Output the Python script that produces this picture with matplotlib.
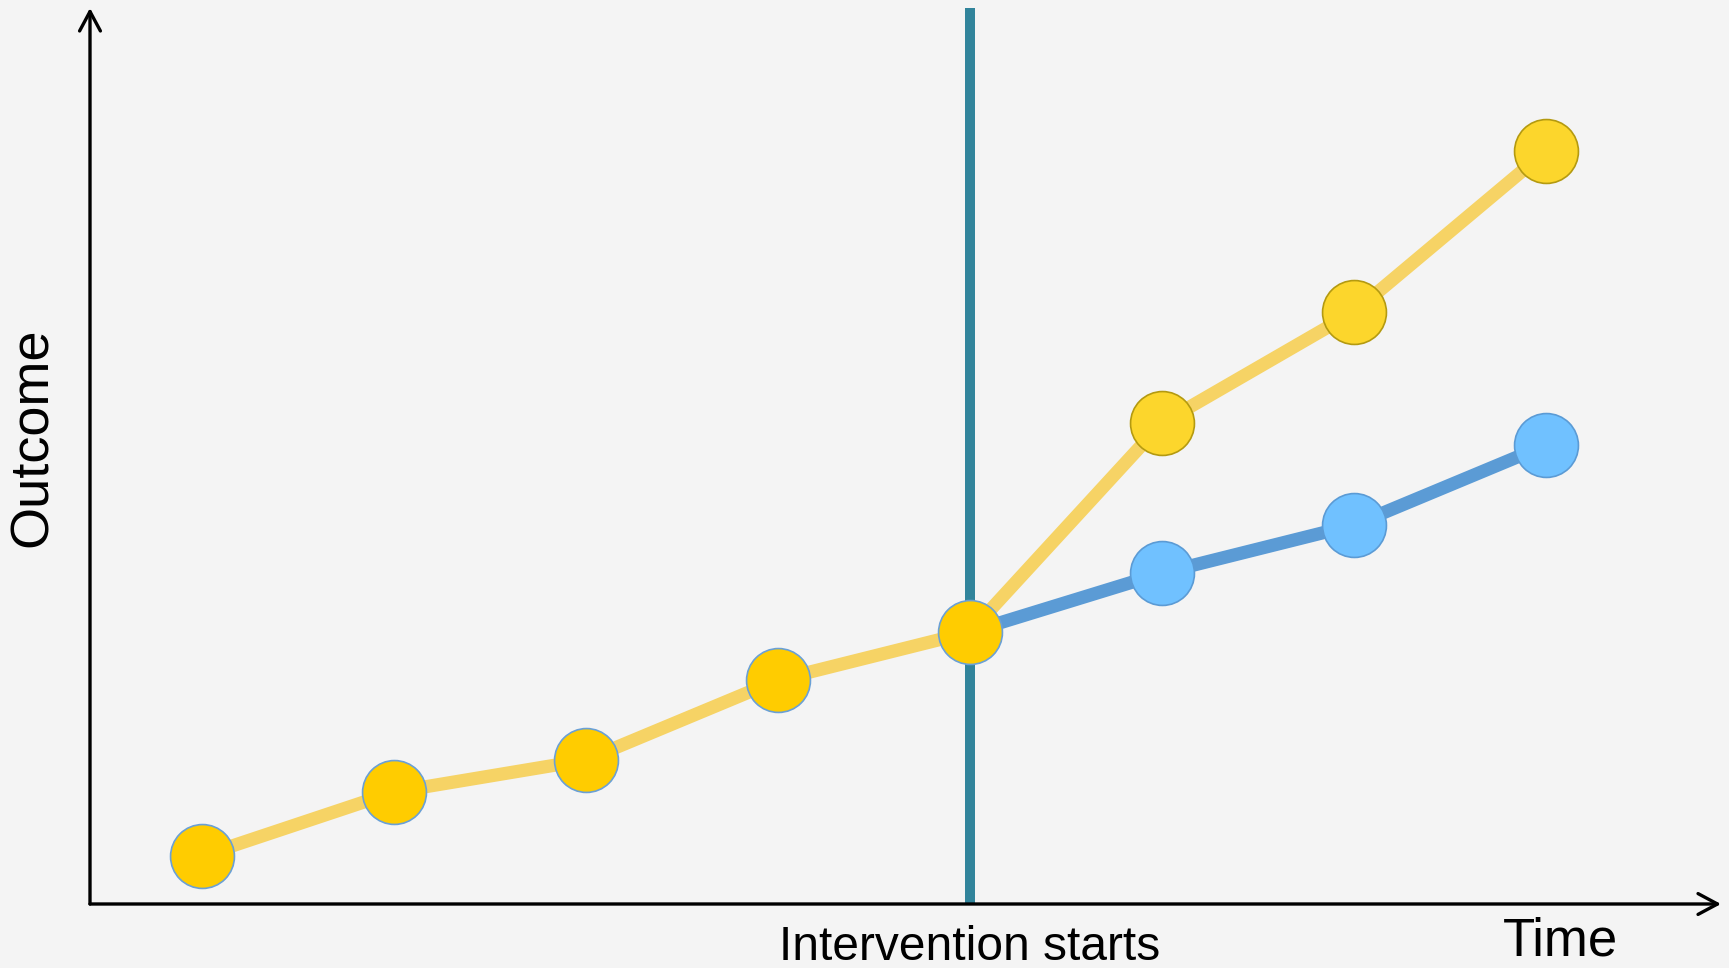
import matplotlib
matplotlib.use('Agg')
import matplotlib.pyplot as plt

plt.rcParams['font.family'] = ['Liberation Sans', 'DejaVu Sans']

# time points and outcome values (arbitrary units)
time_pre = [1, 2, 3, 4, 5]
outcome_pre = [0.48, 1.12, 1.44, 2.24, 2.72]
time_post = [6, 7, 8]
outcome_treated = [4.81, 5.92, 7.53]
outcome_control = [3.31, 3.79, 4.59]
intervention_time = 5

bg = '#f4f4f4'
yellow_line = '#f6d365'
blue_line = '#5b9bd5'
teal = '#31849b'

fig = plt.figure(figsize=(17.29, 9.68), dpi=100, facecolor=bg)
ax = fig.add_axes([90 / 1729, 64 / 968, (1721 - 90) / 1729, (904 - 8) / 968])
ax.set_facecolor('none')
ax.set_xlim(0.4167, 8.911)
ax.set_ylim(0, 8.96)
ax.axis('off')

# intervention line
ax.axvline(intervention_time, ymin=0, ymax=0.999, color=teal, lw=7.2, zorder=1)

# counterfactual (blue) path starts from last pre point
ax.plot([time_pre[-1]] + time_post, [outcome_pre[-1]] + outcome_control,
        color=blue_line, lw=9.5, solid_capstyle='butt', zorder=2)
# observed (yellow) path
ax.plot(time_pre + time_post, outcome_pre + outcome_treated,
        color=yellow_line, lw=9.5, solid_capstyle='butt', zorder=2)

ms = 46
ax.plot(time_pre, outcome_pre, 'o', ms=ms, mfc='#ffcc00', mec='#6aa0d6', mew=1.2,
        zorder=4, clip_on=False)
ax.plot(time_post, outcome_treated, 'o', ms=ms, mfc='#fcd62c', mec='#b49a10', mew=1.2,
        zorder=4, clip_on=False)
ax.plot(time_post, outcome_control, 'o', ms=ms, mfc='#70c1ff', mec='#5b9bd5', mew=1.2,
        zorder=4, clip_on=False)

# axis arrows
arrow = dict(arrowstyle='->,head_length=1.4,head_width=0.75', lw=2.4, color='black',
             shrinkA=0, shrinkB=0)
ax.annotate('', xy=(1, 0), xytext=(0, 0), xycoords='axes fraction', arrowprops=arrow)
ax.annotate('', xy=(0, 1), xytext=(0, 0), xycoords='axes fraction', arrowprops=arrow)

ax.annotate('Intervention starts', xy=(intervention_time, 0),
            xycoords=('data', 'axes fraction'), xytext=(0, -56 * 0.72),
            textcoords='offset points', ha='center', va='baseline', fontsize=34.5)
fig.text(1561 / 1729, 1 - 956 / 968, 'Time', ha='center', va='baseline', fontsize=38)
fig.text(33 / 1729, 1 - 437 / 968, 'Outcome', ha='center', va='center',
         rotation=90, fontsize=39)

fig.savefig('out.png', dpi=100, facecolor=bg)
